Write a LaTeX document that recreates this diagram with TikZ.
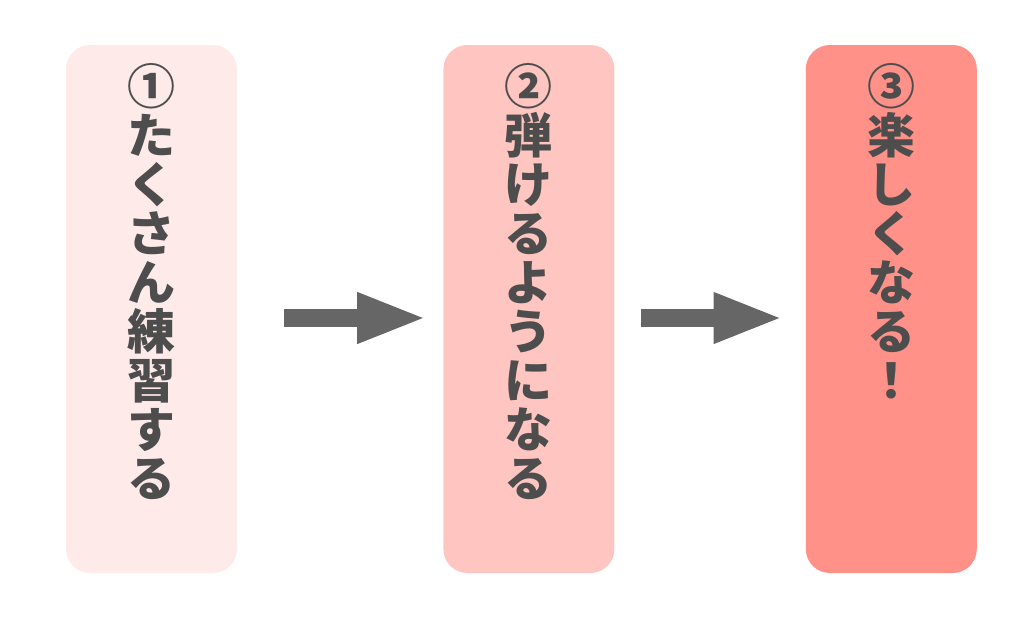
\documentclass[tikz,border=0pt]{standalone}
\usepackage{fontspec}
\newfontfamily\jpfont{Noto Sans CJK JP}
\usetikzlibrary{positioning,arrows.meta}
\definecolor{stepone}{HTML}{FFEAEA}
\definecolor{steptwo}{HTML}{FFC5C0}
\definecolor{stepthree}{HTML}{FF9189}
\definecolor{textgray}{HTML}{4D4D4D}
\definecolor{arrowgray}{HTML}{666666}
\begin{document}
\begin{tikzpicture}[x=1pt,y=-1pt,
	stepbox/.style={rounded corners=24pt, minimum width=171pt, minimum height=528pt, inner sep=0pt},
	steptext/.style={font=\jpfont\bfseries\fontsize{48}{49}\selectfont, text=textgray, align=center, inner sep=0pt, anchor=north},
	flow/.style={arrowgray, line width=18pt, -{Triangle[length=70pt,width=46pt]}}]

		\useasboundingbox (0,0) rectangle (1024,619);

		% Boxes
		\node[stepbox, fill=stepone] (box1) at (151.5,309) {};
		\node[stepbox, fill=steptwo, right=206pt of box1] (box2) {};
		\node[stepbox, fill=stepthree, right=191pt of box2] (box3) {};

		% Vertical labels
		\node[steptext] (txt1) at ([yshift=-18pt]box1.north) {①\\た\\く\\さ\\ん\\練\\習\\す\\る};
		\node[steptext] (txt2) at ([yshift=-18pt]box2.north) {②\\弾\\け\\る\\よ\\う\\に\\な\\る};
		\node[steptext] (txt3) at ([yshift=-18pt]box3.north) {③\\楽\\し\\く\\な\\る\\！};

		% Arrows
		\coordinate (a1s) at ([xshift=47pt,yshift=-9pt]box1.east);
		\coordinate (a1e) at ([xshift=-16pt,yshift=-9pt]box2.west);
		\coordinate (a2s) at ([xshift=26pt,yshift=-9pt]box2.east);
		\coordinate (a2e) at ([xshift=-22pt,yshift=-9pt]box3.west);
		\draw[flow] (a1s) -- (a1e);
		\draw[flow] (a2s) -- (a2e);

	\end{tikzpicture}
\end{document}
